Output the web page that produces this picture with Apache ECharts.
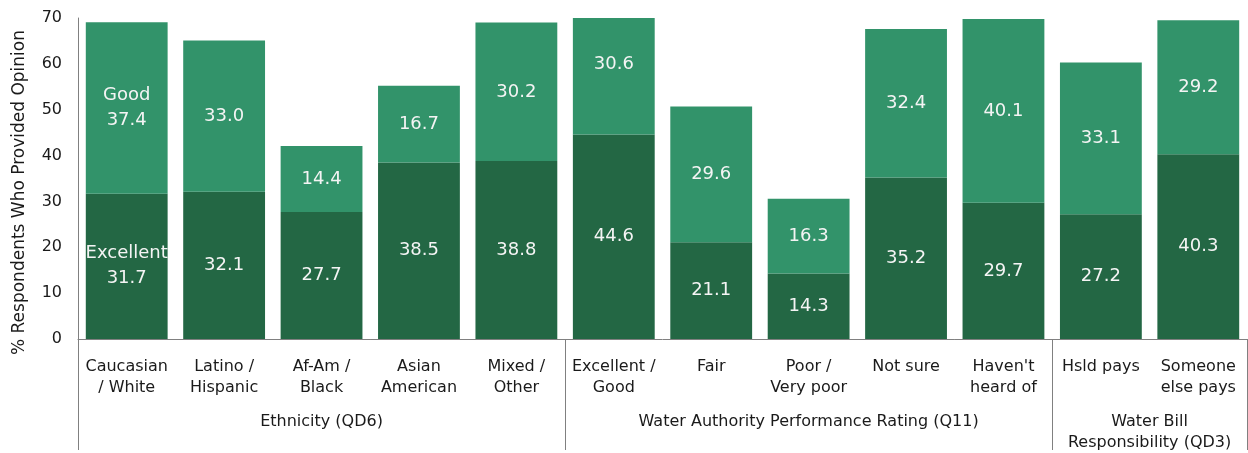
<!DOCTYPE html>
<html>
<head>
<meta charset="utf-8">
<script src="https://cdn.jsdelivr.net/npm/echarts@6/dist/echarts.min.js"></script>
<style>
  html, body { margin: 0; padding: 0; background: #fff; }
  #chart { width: 1248px; height: 453px; }
</style>
</head>
<body>
<div id="chart"></div>
<script>
// categories and group info
var categories = [
  "Caucasian\n/ White", "Latino /\nHispanic", "Af-Am /\nBlack", "Asian\nAmerican", "Mixed /\nOther",
  "Excellent /\nGood", "Fair", "Poor /\nVery poor", "Not sure", "Haven't\nheard of",
  "Hsld pays", "Someone\nelse pays"
];
var groupNames = ["Ethnicity (QD6)", "Water Authority Performance Rating (Q11)", "Water Bill\nResponsibility (QD3)"];
var groupSizes = [5, 5, 2];

var excellent = [31.7, 32.1, 27.7, 38.5, 38.8, 44.6, 21.1, 14.3, 35.2, 29.7, 27.2, 40.3];
var good = [37.4, 33.0, 14.4, 16.7, 30.2, 30.6, 29.6, 16.3, 32.4, 40.1, 33.1, 29.2];
var yTicks = [0, 10, 20, 30, 40, 50, 60, 70];

// group boundaries and centres (in category units)
var bounds = [0], centres = [];
groupSizes.forEach(function (n, i) {
  centres.push(bounds[i] + n / 2);
  bounds.push(bounds[i] + n);
});

var FONT = "DejaVu Sans";
var TXT = "#1a1a1a";
var yMax = yTicks[yTicks.length - 1];
var chart = echarts.init(document.getElementById("chart"));

function fmt(p) {
  var v = (typeof p.value === "number" ? p.value : p.data.value).toFixed(1);
  return p.dataIndex === 0 ? p.seriesName + "\n" + v : v;
}

var barLabel = {
  show: true, position: "inside", color: "#f4f4f4", fontSize: 18,
  fontFamily: FONT, lineHeight: 25, formatter: fmt
};

var option = {
  animation: false,
  textStyle: { fontFamily: FONT },
  grid: { left: 78, right: 1, top: 18, bottom: 111 },
  xAxis: [
    {
      type: "category",
      data: categories,
      axisLine: { lineStyle: { color: "#808080", width: 1 } },
      axisTick: { show: false },
      axisLabel: {
        interval: 0, margin: 17, color: TXT, fontSize: 16,
        fontFamily: FONT, lineHeight: 21
      }
    },
    {
      type: "value",
      position: "bottom",
      min: 0,
      max: categories.length,
      splitLine: { show: false },
      axisLine: { show: false },
      axisTick: {
        show: true, inside: false, length: 111, customValues: bounds,
        lineStyle: { color: "#808080", width: 1 }
      },
      axisLabel: {
        customValues: centres, margin: 72, color: TXT, fontSize: 16,
        fontFamily: FONT, lineHeight: 21,
        formatter: function (v) {
          var i = centres.indexOf(v);
          return i >= 0 ? groupNames[i] : "";
        }
      }
    }
  ],
  yAxis: {
    type: "value",
    min: yTicks[0],
    max: yMax,
    interval: 10,
    name: "% Respondents Who Provided Opinion",
    nameLocation: "middle",
    nameGap: 50,
    nameTextStyle: { fontSize: 17, color: TXT, fontFamily: FONT, padding: [0, 0, 0, -28] },
    splitLine: { show: false },
    axisLine: { show: true, lineStyle: { color: "#808080", width: 1 } },
    axisTick: { show: false },
    axisLabel: { color: TXT, fontSize: 16, fontFamily: FONT, margin: 16 }
  },
  series: [
    {
      name: "Excellent",
      type: "bar",
      stack: "total",
      barCategoryGap: "16%",
      data: excellent,
      itemStyle: { color: "#236744" },
      label: barLabel
    },
    {
      name: "Good",
      type: "bar",
      stack: "total",
      barCategoryGap: "16%",
      data: good.map(function (v, i) {
        // top of bar runs past the axis max; keep label at the full segment's centre
        var over = excellent[i] + v - yMax;
        return over > 0 ? { value: v, label: { offset: [0, -over * 324 / yMax / 2] } } : v;
      }),
      itemStyle: { color: "#32936A" },
      label: barLabel
    }
  ]
};

chart.setOption(option);
</script>
</body>
</html>
